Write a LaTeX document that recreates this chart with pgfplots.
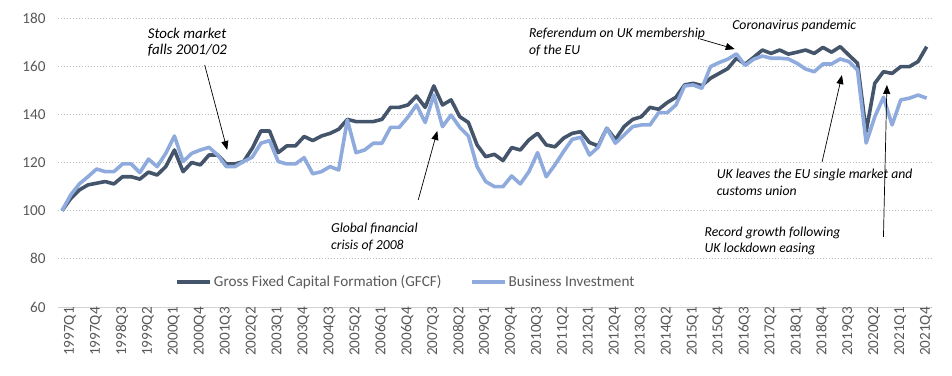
\documentclass[border=0pt]{standalone}
\usepackage{pgfplots}
\pgfplotsset{compat=1.18}
\usepackage{pgfplotstable}
\usepackage{fontspec}
\setmainfont{Carlito}
\usetikzlibrary{arrows.meta}
\definecolor{gfcf}{HTML}{44546A}
\definecolor{bi}{HTML}{8FAADC}
\definecolor{txt}{HTML}{595959}
\definecolor{grd}{HTML}{BFBFBF}
\newcommand\f{\fontsize{15.2}{17}\selectfont}
\newcommand\fa{\fontsize{13.7}{16.5}\selectfont}
\newcommand\fb{\fontsize{14.9}{16.5}\selectfont}
\pgfplotstableread{
i gfcf bi
0 100 100
1 105 106.5
2 108.6 111.1
3 110.7 114.1
4 111.4 117.3
5 112.1 116.2
6 111.1 116.2
7 114.1 119.4
8 114.1 119.4
9 113.1 115.8
10 116 121.4
11 114.8 118.3
12 118.3 123.8
13 125.2 131
14 116.2 120.4
15 120 123.8
16 119 125.2
17 123.1 126.3
18 123.1 123.1
19 119.4 118.3
20 119.4 118.3
21 120.4 120.4
22 125.9 122.2
23 133.1 128
24 133.1 129.1
25 124.1 120.4
26 126.9 119.4
27 126.9 119.4
28 130.8 122
29 129.1 115.3
30 131 116.2
31 132.1 118.3
32 133.8 116.9
33 137.9 137.7
34 137 124.1
35 137 125.2
36 137 128
37 137.9 128
38 142.9 134.6
39 142.9 134.6
40 143.9 138.8
41 147.6 143.9
42 142.9 136.6
43 151.8 148
44 143.9 134.9
45 146 139.7
46 139 134.6
47 136.6 131
48 127.3 118.3
49 122.4 112.1
50 123.4 110
51 120.8 110
52 126.2 114.4
53 125.2 111.1
54 129.4 116.2
55 132.1 124.1
56 127.3 114.1
57 126.5 119
58 130.1 124.5
59 132.1 129.6
60 132.8 130.5
61 128.3 123.1
62 126.9 126.3
63 134.2 134.2
64 129.6 128
65 134.9 131.4
66 137.9 134.9
67 139 135.6
68 142.9 135.6
69 142.1 140.7
70 144.9 140.7
71 147.1 143.9
72 152.2 151.8
73 152.9 152.2
74 151.9 150.8
75 155 159.8
76 157 161.5
77 159 162.9
78 163.3 165.1
79 160.8 160.3
80 163.7 162.9
81 166.7 164.2
82 165.3 163.3
83 166.7 163.3
84 165 163
85 165.8 161.2
86 166.7 158.8
87 165.3 157.7
88 167.8 160.9
89 165.8 160.9
90 168.1 163
91 164.6 161.9
92 161.2 158.4
93 132.8 128.1
94 152.9 139
95 157.7 147.1
96 157 135.6
97 159.8 146
98 159.8 146.7
99 161.9 148
100 168.1 146.7
}\data
\begin{document}
\begin{tikzpicture}
\begin{axis}[
  scale only axis, width=873.3pt, height=289pt,
  xmin=-0.5, xmax=100.5, ymin=60, ymax=180,
  axis x line*=bottom, axis y line*=left,
  x axis line style={draw=grd!70, -, line width=0.8pt},
  y axis line style={draw=none},
  major tick length=0pt,
  ytick={60,80,...,180},
  ymajorgrids, major grid style={draw=grd, line width=0.9pt, dash pattern=on 0.9pt off 2.1pt},
  xtick={0,3,...,99},
  xticklabels={1997Q1,1997Q4,1998Q3,1999Q2,2000Q1,2000Q4,2001Q3,2002Q2,2003Q1,2003Q4,2004Q3,2005Q2,2006Q1,2006Q4,2007Q3,2008Q2,2009Q1,2009Q4,2010Q3,2011Q2,2012Q1,2012Q4,2013Q3,2014Q2,2015Q1,2015Q4,2016Q3,2017Q2,2018Q1,2018Q4,2019Q3,2020Q2,2021Q1,2021Q4},
  x tick label style={rotate=90, anchor=east, font=\f, text=txt, inner sep=0pt, xshift=0pt, yshift=-8pt},
  y tick label style={font=\f, text=txt, inner sep=0pt, xshift=-12pt},
  /pgf/number format/assume math mode=true,
  legend columns=2,
  legend style={at={(rel axis cs:0.1340,0.087)}, anchor=west, draw=none, fill=none, font=\f, text=txt, inner sep=0pt,
    /tikz/every even column/.append style={column sep=26pt}},
  legend image code/.code={\draw[#1, line width=4pt] (0pt,0pt) -- (33pt,0pt);},
  every axis plot/.append style={line width=3.6pt, line join=round},
  clip=false,
]
\addplot[gfcf, no markers] table[x=i, y=gfcf] {\data};
\addlegendentry{Gross Fixed Capital Formation (GFCF)}
\addplot[bi, no markers] table[x=i, y=bi] {\data};
\addlegendentry{Business Investment}
\coordinate (bl) at (rel axis cs:0,0);
\coordinate (tr) at (rel axis cs:1,1);
\tikzset{ann/.style={font=\fa\itshape, align=left, anchor=west, inner sep=0pt, text=black}, arr/.style={black, line width=0.7pt, -{Triangle[length=9pt, width=7pt]}}}
\node[ann, font=\fb\itshape] at (axis cs:9.9,170) {Stock market\\falls 2001/02};
\draw[arr] (axis cs:16.5,160.5) -- (axis cs:19.1,125.2);
\node[ann] at (axis cs:31.1,89.1) {Global financial\\crisis of 2008};
\draw[arr] (axis cs:41.2,104.5) -- (axis cs:43.4,133.1);
\node[ann] at (axis cs:54.0,170) {Referendum on UK membership\\of the EU};
\draw[arr] (axis cs:73.8,171.3) -- (axis cs:77.8,167.1);
\node[ann] at (axis cs:77.5,176.7) {Coronavirus pandemic};
\node[ann] at (axis cs:75.7,111.7) {UK leaves the EU single market and\\customs union};
\draw[arr] (axis cs:87.9,120.2) -- (axis cs:90.2,156.3);
\node[ann] at (axis cs:74.3,87.5) {Record growth following\\UK lockdown easing};
\draw[arr] (axis cs:95.0,89.1) -- (axis cs:95.4,152.2);
\end{axis}
\pgfresetboundingbox
\path[use as bounding box] ([shift={(-57.7pt,-68pt)}]bl) rectangle ([shift={(21pt,18pt)}]tr);
\end{tikzpicture}
\end{document}
